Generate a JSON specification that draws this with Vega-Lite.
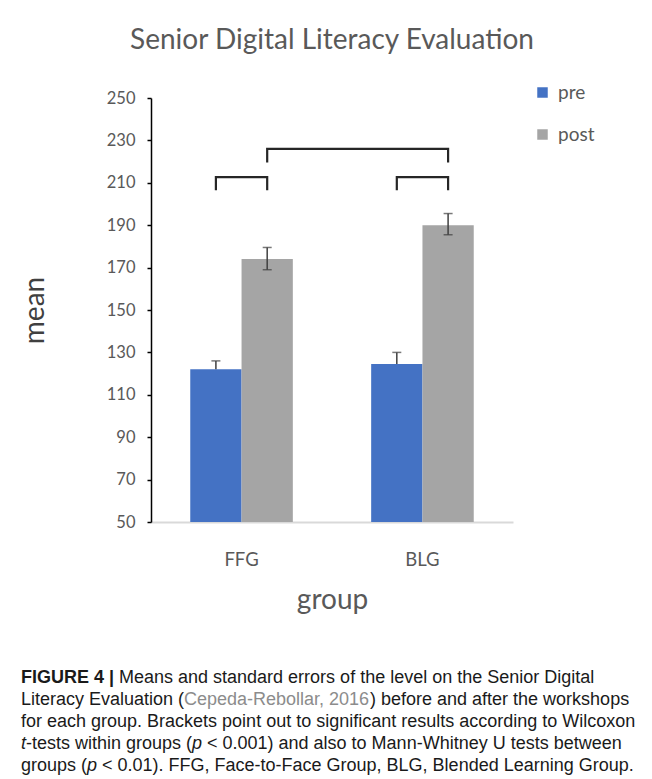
{
  "$schema": "https://vega.github.io/schema/vega-lite/v6.json",
  "background": "white",
  "padding": {"left": 21, "top": 27, "right": 5, "bottom": 5},
  "columns": 1,
  "spacing": 52,
  "config": {"view": {"stroke": null}, "font": "Lato"},
  "datasets": {
    "bars": [
      {"group": "FFG", "phase": "pre", "mean": 122},
      {"group": "FFG", "phase": "post", "mean": 174},
      {"group": "BLG", "phase": "pre", "mean": 124.5},
      {"group": "BLG", "phase": "post", "mean": 190}
    ],
    "errs": [
      {"group": "FFG", "phase": "pre", "lo": 122, "hi": 126},
      {"group": "FFG", "phase": "post", "lo": 169, "hi": 179.5},
      {"group": "BLG", "phase": "pre", "lo": 124.5, "hi": 130},
      {"group": "BLG", "phase": "post", "lo": 185.5, "hi": 195.5}
    ],
    "caps": [
      {"group": "FFG", "phase": "pre", "v": 126},
      {"group": "FFG", "phase": "post", "v": 169},
      {"group": "FFG", "phase": "post", "v": 179.5},
      {"group": "BLG", "phase": "pre", "v": 130},
      {"group": "BLG", "phase": "post", "v": 185.5},
      {"group": "BLG", "phase": "post", "v": 195.5}
    ],
    "brackets": [
      {"bracket": "A", "k": 1, "group": "FFG", "phase": "pre", "v": 206.5},
      {"bracket": "A", "k": 2, "group": "FFG", "phase": "pre", "v": 212.7},
      {"bracket": "A", "k": 3, "group": "FFG", "phase": "post", "v": 212.7},
      {"bracket": "A", "k": 4, "group": "FFG", "phase": "post", "v": 206.5},
      {"bracket": "B", "k": 1, "group": "BLG", "phase": "pre", "v": 206.5},
      {"bracket": "B", "k": 2, "group": "BLG", "phase": "pre", "v": 212.7},
      {"bracket": "B", "k": 3, "group": "BLG", "phase": "post", "v": 212.7},
      {"bracket": "B", "k": 4, "group": "BLG", "phase": "post", "v": 206.5},
      {"bracket": "C", "k": 1, "group": "FFG", "phase": "post", "v": 219.6},
      {"bracket": "C", "k": 2, "group": "FFG", "phase": "post", "v": 226},
      {"bracket": "C", "k": 3, "group": "BLG", "phase": "post", "v": 226},
      {"bracket": "C", "k": 4, "group": "BLG", "phase": "post", "v": 219.6}
    ],
    "caption": [
      {"line": 1, "seg": "fig", "text": "FIGURE 4 |"},
      {"line": 1, "seg": "f1", "text": "Means and standard errors of the level on the Senior Digital"},
      {"line": 2, "seg": "plain", "text": "Literacy Evaluation ("},
      {"line": 2, "seg": "cite", "text": "Cepeda-Rebollar, 2016"},
      {"line": 2, "seg": "c2", "text": ") before and after the workshops"},
      {"line": 3, "seg": "plain", "text": "for each group. Brackets point out to significant results according to Wilcoxon"},
      {"line": 4, "seg": "it0", "text": "t"},
      {"line": 4, "seg": "t1", "text": "-tests within groups ("},
      {"line": 4, "seg": "itp4", "text": "p"},
      {"line": 4, "seg": "t4", "text": "< 0.001) and also to Mann-Whitney U tests between"},
      {"line": 5, "seg": "plain", "text": "groups ("},
      {"line": 5, "seg": "itp5", "text": "p"},
      {"line": 5, "seg": "t5", "text": "< 0.01). FFG, Face-to-Face Group, BLG, Blended Learning Group."}
    ]
  },
  "concat": [
    {
      "width": 362,
      "height": 424,
      "title": {"text": "Senior Digital Literacy Evaluation", "font": "Lato", "fontSize": 28, "fontWeight": "normal", "color": "#595959", "anchor": "middle", "offset": 35},
      "encoding": {
        "x": {"field": "group", "type": "nominal", "sort": ["FFG", "BLG"],
          "scale": {"paddingInner": 0.433, "paddingOuter": 0.217},
          "axis": {"labelAngle": 0, "ticks": false, "domainColor": "#d9d9d9", "domainWidth": 2, "labelColor": "#595959", "labelFont": "Lato", "labelFontSize": 18.5, "labelPadding": 28, "titleFont": "Lato", "titleFontSize": 28, "titleFontWeight": "normal", "titleColor": "#595959", "titlePadding": 18},
          "title": "group"},
        "xOffset": {"field": "phase", "type": "nominal", "sort": ["pre", "post"], "scale": {"domain": ["pre", "post"], "paddingInner": 0, "paddingOuter": 0}}
      },
      "layer": [
        {
          "data": {"name": "bars"},
          "mark": {"type": "bar"},
          "encoding": {
            "y": {"field": "mean", "type": "quantitative",
              "scale": {"domain": [50, 250], "nice": false, "zero": false},
              "axis": {"values": [50, 70, 90, 110, 130, 150, 170, 190, 210, 230, 250], "grid": false, "domainColor": "#000000", "domainWidth": 1.5, "tickColor": "#000000", "tickWidth": 1.5, "tickSize": 4, "labelColor": "#595959", "labelFont": "Lato", "labelFontSize": 16.5, "labelPadding": 12, "titleFont": "Lato", "titleFontSize": 28, "titleFontWeight": "normal", "titleColor": "#404040", "titlePadding": 57},
              "title": "mean"},
            "y2": {"datum": 50},
            "color": {"field": "phase", "type": "nominal", "sort": ["pre", "post"],
              "scale": {"domain": ["pre", "post"], "range": ["#4472C4", "#A5A5A5"]},
              "legend": {"title": null, "orient": "none", "legendX": 382, "legendY": -15, "symbolType": "square", "symbolSize": 110, "symbolStrokeWidth": 0, "labelFont": "Lato", "labelFontSize": 19, "labelColor": "#595959", "rowPadding": 22, "labelOffset": 6}}
          }
        },
        {
          "data": {"name": "errs"},
          "mark": {"type": "rule", "color": "#404040", "strokeWidth": 1.5},
          "encoding": {
            "y": {"field": "lo", "type": "quantitative"},
            "y2": {"field": "hi"}
          }
        },
        {
          "data": {"name": "caps"},
          "mark": {"type": "tick", "color": "#404040", "orient": "horizontal", "size": 9, "thickness": 1.5},
          "encoding": {
            "y": {"field": "v", "type": "quantitative"}
          }
        },
        {
          "data": {"name": "brackets"},
          "mark": {"type": "line", "color": "#262626", "strokeWidth": 2.2, "interpolate": "linear"},
          "encoding": {
            "y": {"field": "v", "type": "quantitative"},
            "detail": {"field": "bracket"},
            "order": {"field": "k"}
          }
        }
      ]
    },
    {
      "width": 480,
      "height": 110,
      "data": {"name": "caption"},
      "encoding": {
        "x": {"datum": 0, "type": "quantitative", "scale": {"domain": [0, 1]}, "axis": null},
        "y": {"field": "line", "type": "ordinal", "scale": {"paddingInner": 0, "paddingOuter": 0}, "axis": null},
        "text": {"field": "text"}
      },
      "layer": [
        {"transform": [{"filter": "datum.seg == 'fig'"}], "mark": {"type": "text", "align": "left", "baseline": "middle", "font": "Liberation Sans", "fontSize": 18, "fontWeight": "bold", "color": "#1a1a1a", "dx": -130}},
        {"transform": [{"filter": "datum.seg == 'f1'"}], "mark": {"type": "text", "align": "left", "baseline": "middle", "font": "Liberation Sans", "fontSize": 18, "color": "#1a1a1a", "dx": -32}},
        {"transform": [{"filter": "datum.seg == 'plain'"}], "mark": {"type": "text", "align": "left", "baseline": "middle", "font": "Liberation Sans", "fontSize": 18, "color": "#1a1a1a", "dx": -130}},
        {"transform": [{"filter": "datum.seg == 'cite'"}], "mark": {"type": "text", "align": "left", "baseline": "middle", "font": "Liberation Sans", "fontSize": 18, "color": "#8c8c8c", "dx": 33}},
        {"transform": [{"filter": "datum.seg == 'c2'"}], "mark": {"type": "text", "align": "left", "baseline": "middle", "font": "Liberation Sans", "fontSize": 18, "color": "#1a1a1a", "dx": 219}},
        {"transform": [{"filter": "datum.seg == 'it0'"}], "mark": {"type": "text", "align": "left", "baseline": "middle", "font": "Liberation Sans", "fontSize": 18, "fontStyle": "italic", "color": "#1a1a1a", "dx": -130}},
        {"transform": [{"filter": "datum.seg == 't1'"}], "mark": {"type": "text", "align": "left", "baseline": "middle", "font": "Liberation Sans", "fontSize": 18, "color": "#1a1a1a", "dx": -125}},
        {"transform": [{"filter": "datum.seg == 'itp4'"}], "mark": {"type": "text", "align": "left", "baseline": "middle", "font": "Liberation Sans", "fontSize": 18, "fontStyle": "italic", "color": "#1a1a1a", "dx": 41}},
        {"transform": [{"filter": "datum.seg == 't4'"}], "mark": {"type": "text", "align": "left", "baseline": "middle", "font": "Liberation Sans", "fontSize": 18, "color": "#1a1a1a", "dx": 56}},
        {"transform": [{"filter": "datum.seg == 'itp5'"}], "mark": {"type": "text", "align": "left", "baseline": "middle", "font": "Liberation Sans", "fontSize": 18, "fontStyle": "italic", "color": "#1a1a1a", "dx": -64}},
        {"transform": [{"filter": "datum.seg == 't5'"}], "mark": {"type": "text", "align": "left", "baseline": "middle", "font": "Liberation Sans", "fontSize": 18, "color": "#1a1a1a", "dx": -49}}
      ]
    }
  ]
}
